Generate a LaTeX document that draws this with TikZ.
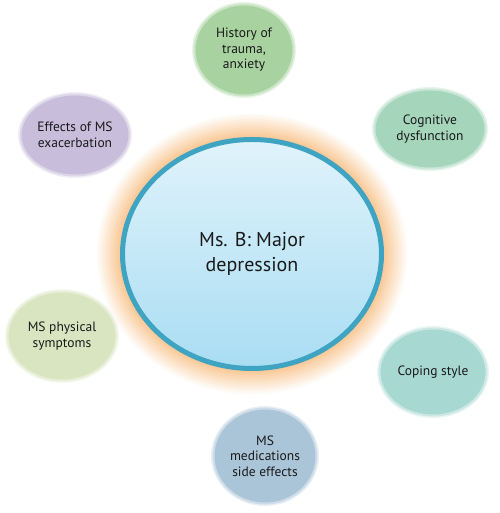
\documentclass[tikz,border=0pt]{standalone}
\usepackage{fontspec}
\setmainfont{PT Sans}
\usepackage{tikz}
\usetikzlibrary{shapes.geometric}
\usepackage{xcolor}
\definecolor{ink}{HTML}{1A1A1A}
\definecolor{rim}{HTML}{3FA3C2}
\definecolor{glow}{HTML}{F9C792}
\definecolor{skytop}{HTML}{E0F3FB}
\definecolor{skybot}{HTML}{A9DDF3}
\definecolor{trauma}{HTML}{A8D3A0}
\definecolor{exacer}{HTML}{C8BDDB}
\definecolor{cognit}{HTML}{A5D5BA}
\definecolor{physic}{HTML}{D8E5C0}
\definecolor{coping}{HTML}{A8D8D2}
\definecolor{medics}{HTML}{AAC4D8}

\begin{document}
\begin{tikzpicture}[x=1pt, y=1pt,
  blob/.style={ellipse, fill=#1, draw=#1!60!white, line width=2pt, preaction={draw=#1!25!white, line width=5pt}, align=center, inner sep=0pt, text=ink, font=\fontsize{13.5}{15.5}\selectfont},
  core/.style={ellipse, top color=skytop, bottom color=skybot, draw=rim, line width=5pt, align=center, text=ink, font=\fontsize{20}{25}\selectfont}
]
  \useasboundingbox (0,0) rectangle (499,513);
  \coordinate (mid) at (252,259);

  % Orange halo
  \foreach \g in {24,22,...,2} {
    \pgfmathtruncatemacro{\p}{100-4*\g}
    \fill[glow!\p!white] (mid) ellipse [x radius=132+\g, y radius=117+\g];
  }

  % Centre
  \node[core, minimum width=259, minimum height=229] (ms) at (mid) {Ms. B: Major\\depression};

  % Factors
  \node[blob=trauma, minimum width=99, minimum height=91] (hist) at (244,463) {History of\\trauma,\\anxiety};
  \node[blob=exacer, minimum width=109, minimum height=81] (exac) at (75,378) {Effects of MS\\exacerbation};
  \node[blob=cognit, minimum width=111, minimum height=79] (cogn) at (430,384) {Cognitive\\dysfunction};
  \node[blob=physic, minimum width=109, minimum height=89] (phys) at (62,177) {MS physical\\symptoms};
  \node[blob=coping, minimum width=107, minimum height=87] (cope) at (433,141) {Coping style};
  \node[blob=medics, minimum width=103, minimum height=95] (meds) at (265,57) {MS\\medications\\side effects};
\end{tikzpicture}
\end{document}
